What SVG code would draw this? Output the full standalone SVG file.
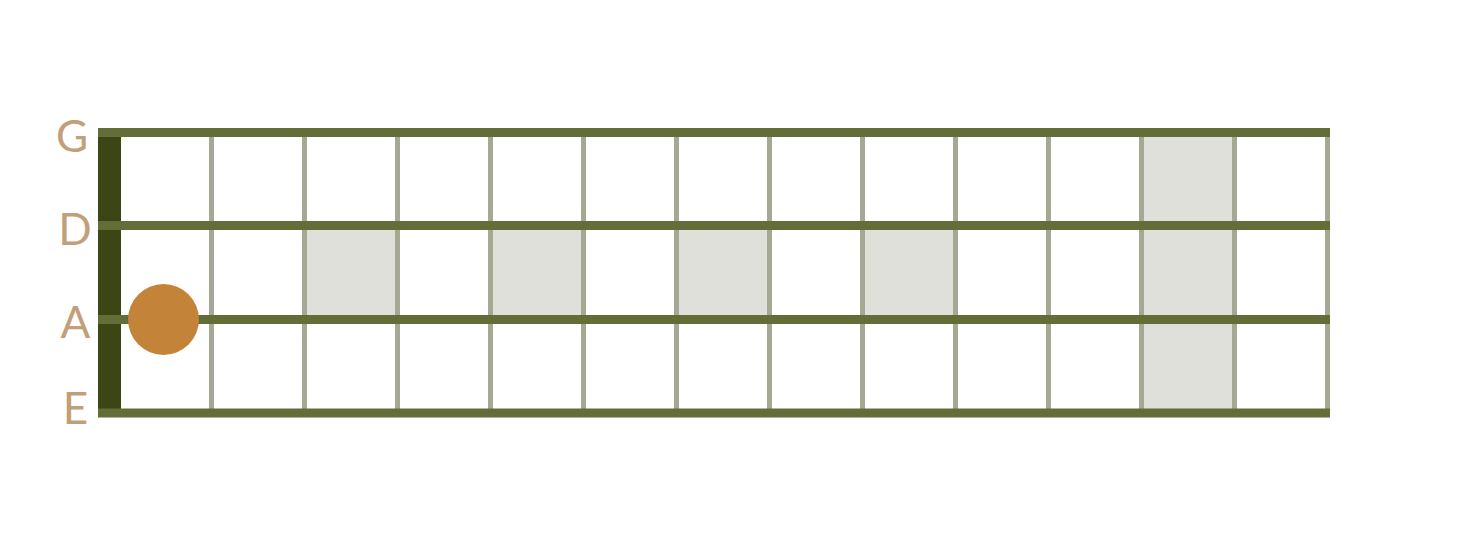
<svg xmlns="http://www.w3.org/2000/svg" width="1469" height="549" viewBox="0 0 1469 549">
<style>
.fret{stroke:#a5a892;stroke-width:5}
.str{stroke:#626d38;stroke-width:9}
.shade{fill:#e0e0da}
.lbl{font-family:"Lato","Liberation Sans",sans-serif;font-size:44px;fill:#c19f79;text-anchor:middle}
</style>
<rect width="1469" height="549" fill="#ffffff"/>
<g id="inlays">
<rect class="shade" x="304.5" y="225.5" width="93" height="94"/>
<rect class="shade" x="490.5" y="225.5" width="93" height="94"/>
<rect class="shade" x="676.5" y="225.5" width="93" height="94"/>
<rect class="shade" x="862.5" y="225.5" width="93" height="94"/>
<rect class="shade" x="1141.5" y="132.5" width="93" height="281"/>
</g>
<g id="frets">
<line class="fret" x1="211.5" y1="132" x2="211.5" y2="413"/>
<line class="fret" x1="304.5" y1="132" x2="304.5" y2="413"/>
<line class="fret" x1="397.5" y1="132" x2="397.5" y2="413"/>
<line class="fret" x1="490.5" y1="132" x2="490.5" y2="413"/>
<line class="fret" x1="583.5" y1="132" x2="583.5" y2="413"/>
<line class="fret" x1="676.5" y1="132" x2="676.5" y2="413"/>
<line class="fret" x1="769.5" y1="132" x2="769.5" y2="413"/>
<line class="fret" x1="862.5" y1="132" x2="862.5" y2="413"/>
<line class="fret" x1="955.5" y1="132" x2="955.5" y2="413"/>
<line class="fret" x1="1048.5" y1="132" x2="1048.5" y2="413"/>
<line class="fret" x1="1141.5" y1="132" x2="1141.5" y2="413"/>
<line class="fret" x1="1234.5" y1="132" x2="1234.5" y2="413"/>
<line class="fret" x1="1327.5" y1="132" x2="1327.5" y2="413"/>
</g>
<g id="nut">
<rect x="98" y="132" width="23" height="281" fill="#3c4514"/>
</g>
<g id="strings">
<line class="str" x1="98" y1="132.5" x2="1330" y2="132.5"/>
<line class="str" x1="98" y1="225.5" x2="1330" y2="225.5"/>
<line class="str" x1="98" y1="319.5" x2="1330" y2="319.5"/>
<line class="str" x1="98" y1="413" x2="1330" y2="413"/>
</g>
<g id="labels">
<text class="lbl" x="72" y="152">G</text>
<text class="lbl" x="75" y="245">D</text>
<text class="lbl" x="75.5" y="338">A</text>
<text class="lbl" x="75.5" y="424">E</text>
</g>
<g id="note">
<circle cx="163.5" cy="319.5" r="35.5" fill="#c38338"/>
</g>
</svg>
